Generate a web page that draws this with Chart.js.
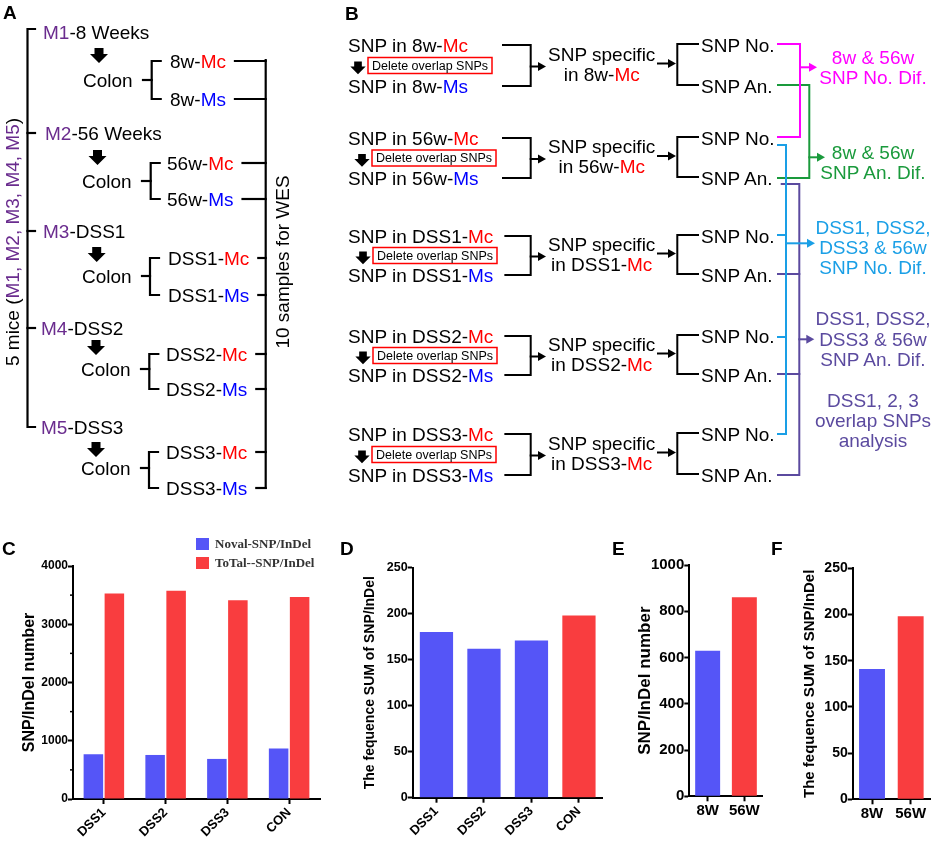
<!DOCTYPE html>
<html>
<head>
<meta charset="utf-8">
<title>SNP/InDel figure</title>
<script src="https://cdn.jsdelivr.net/npm/chart.js@4.4.1/dist/chart.umd.min.js"></script>
<style>
  body { margin: 0; background: #fff; }
  #page { position: relative; width: 934px; height: 848px; overflow: hidden; font-family: Arial, "Liberation Sans", sans-serif; }
  #page canvas { position: absolute; }
  #diag { position: absolute; left: 0; top: 0; pointer-events: none; }
  #legendC { position: absolute; left: 196px; top: 534px; font: bold 13px "Times New Roman", "Liberation Serif", serif; color: #333; }
  #legendC div { height: 19px; display: flex; align-items: center; white-space: nowrap; }
  #legendC span { display: inline-block; width: 13px; height: 12px; margin-right: 6px; }
</style>
</head>
<body>
<div id="page">
  <canvas id="chartC" width="330" height="292" style="left:0;top:556px"></canvas>
  <canvas id="chartD" width="280" height="292" style="left:330px;top:556px"></canvas>
  <canvas id="chartE" width="160" height="292" style="left:610px;top:556px"></canvas>
  <canvas id="chartF" width="164" height="292" style="left:770px;top:556px"></canvas>
  <div id="legendC"></div>
  <svg id="diag" width="934" height="848" font-family="Arial, 'Liberation Sans', sans-serif"></svg>
</div>
<script>
// chart values
const catsC = ['DSS1', 'DSS2', 'DSS3', 'CON'];
const novelC = [768, 756, 688, 865];
const totalC = [3530, 3576, 3410, 3467];
const seriesC = ['Noval-SNP/InDel', 'ToTal--SNP/InDel'];
const minorC = [500, 1500, 2500, 3500];

const catsD = ['DSS1', 'DSS2', 'DSS3', 'CON'];
const sumD = [180, 162, 171, 198];

const catsE = ['8W', '56W'];
const countE = [629, 861];

const catsF = ['8W', '56W'];
const sumF = [141, 198];

// diagram labels
const mice = ['M1', 'M2', 'M3', 'M4', 'M5'];
const groups = ['8 Weeks', '56 Weeks', 'DSS1', 'DSS2', 'DSS3'];
const samples = ['8w', '56w', 'DSS1', 'DSS2', 'DSS3'];

const BLUE = '#5555f7', RED = '#f93d3f';
const T_RED = '#ff0000', T_BLUE = '#0000ff', M_PURPLE = '#6a2c8e';
const MAG = '#ff00ff', GRN = '#1a9a3c', CYN = '#1a9fe6', PUR = '#5b4a9f';

// ---------- charts ----------
Chart.defaults.font.family = 'Arial, "Liberation Sans", sans-serif';
Chart.defaults.font.weight = 'bold';
Chart.defaults.color = '#000';

const minorTicks = {
  id: 'minorTicks',
  afterDraw(chart, args, opts) {
    if (!opts.values) return;
    const y = chart.scales.y, ctx = chart.ctx;
    ctx.save();
    ctx.strokeStyle = '#000';
    ctx.lineWidth = 1.5;
    opts.values.forEach(v => {
      const py = y.getPixelForValue(v);
      ctx.beginPath();
      ctx.moveTo(y.right - 3, py);
      ctx.lineTo(y.right, py);
      ctx.stroke();
    });
    ctx.restore();
  }
};

function barChart(id, labels, datasets, o) {
  datasets.forEach(ds => { ds.categoryPercentage = o.cat; ds.barPercentage = o.bar; });
  return new Chart(document.getElementById(id), {
    type: 'bar',
    data: { labels: labels, datasets: datasets },
    plugins: [minorTicks],
    options: {
      responsive: false,
      animation: false,
      layout: { padding: o.pad },
      plugins: { legend: { display: false }, tooltip: { enabled: false }, minorTicks: { values: o.minor } },
      scales: {
        x: {
          grid: { drawOnChartArea: false, offset: false, tickLength: 5, tickWidth: 2, tickColor: '#000' },
          border: { color: '#000', width: 2 },
          ticks: { font: { size: o.xFont }, maxRotation: o.rot, minRotation: o.rot, padding: 1 },
          afterFit: s => { s.height = o.xh; }
        },
        y: {
          min: 0, max: o.max,
          grid: { drawOnChartArea: false, tickLength: 5, tickWidth: 2, tickColor: '#000' },
          border: { color: '#000', width: 2 },
          ticks: { stepSize: o.step, font: { size: o.yFont }, padding: 0, callback: v => String(v) },
          title: { display: true, text: o.title, font: { size: o.tFont }, padding: { top: o.tPad, bottom: 0 } },
          afterFit: s => { s.width = o.yw; }
        }
      }
    }
  });
}

const lastRed = arr => arr.map((v, i) => i === arr.length - 1 ? RED : BLUE);

const chartC = barChart('chartC', catsC, [
  { label: seriesC[0], data: novelC, backgroundColor: BLUE },
  { label: seriesC[1], data: totalC, backgroundColor: RED }
], { pad: { left: 0, top: 10, right: 10, bottom: 0 }, cat: 0.68, bar: 0.93, minor: minorC,
     xFont: 13, rot: 45, xh: 49, max: 4000, step: 1000, yFont: 12,
     title: 'SNP/InDel number', tFont: 16, tPad: 20, yw: 73 });

barChart('chartD', catsD, [{ data: sumD, backgroundColor: lastRed(sumD) }],
  { pad: { left: 0, top: 11.7, right: 7.3, bottom: 0 }, cat: 0.7, bar: 1,
    xFont: 13, rot: 45, xh: 50.3, max: 250, step: 50, yFont: 12.5,
    title: 'The fequence SUM of SNP/InDel', tFont: 14, tPad: 31.6, yw: 82.7 });

barChart('chartE', catsE, [{ data: countE, backgroundColor: lastRed(countE) }],
  { pad: { left: 0, top: 8.3, right: 7.3, bottom: 0 }, cat: 0.68, bar: 1,
    xFont: 15, rot: 0, xh: 51.7, max: 1000, step: 200, yFont: 15,
    title: 'SNP/InDel number', tFont: 17, tPad: 25.5, yw: 79.3 });

barChart('chartF', catsF, [{ data: sumF, backgroundColor: lastRed(sumF) }],
  { pad: { left: 0, top: 12.3, right: 4, bottom: 0 }, cat: 0.67, bar: 1,
    xFont: 15, rot: 0, xh: 48.7, max: 250, step: 50, yFont: 14,
    title: 'The fequence SUM of SNP/InDel', tFont: 15, tPad: 31, yw: 82.7 });

// legend for C, built from the chart datasets
const leg = document.getElementById('legendC');
chartC.data.datasets.forEach(ds => {
  const row = document.createElement('div');
  const sw = document.createElement('span');
  sw.style.background = ds.backgroundColor;
  row.appendChild(sw);
  row.appendChild(document.createTextNode(ds.label));
  leg.appendChild(row);
});

// ---------- diagrams (A, B) ----------
const NS = 'http://www.w3.org/2000/svg';
const svg = document.getElementById('diag');

function el(tag, attrs, parent) {
  const e = document.createElementNS(NS, tag);
  for (const k in attrs) e.setAttribute(k, attrs[k]);
  (parent || svg).appendChild(e);
  return e;
}
function path(pts, color, w) {
  return el('polyline', { points: pts.map(p => p.join(',')).join(' '), fill: 'none',
    stroke: color || '#000', 'stroke-width': w || 2.2, 'stroke-linecap': 'square' });
}
function txt(x, y, parts, o) {
  o = o || {};
  const t = el('text', { x: x, y: y, 'font-size': o.size || 19, 'text-anchor': o.anchor || 'start',
    'dominant-baseline': 'central', fill: o.color || '#000' });
  if (o.rotate) t.setAttribute('transform', 'rotate(' + o.rotate + ' ' + x + ' ' + y + ')');
  (typeof parts === 'string' ? [[parts]] : parts).forEach(p => {
    const s = el('tspan', p[1] ? { fill: p[1] } : {}, t);
    s.textContent = p[0];
  });
  return t;
}
function downArrow(cx, y0, s) {
  const pts = [[-4.5, 0], [4.5, 0], [4.5, 6], [9, 6], [0, 15], [-9, 6], [-4.5, 6]]
    .map(p => (cx + p[0] * s) + ',' + (y0 + p[1] * s));
  el('polygon', { points: pts.join(' '), fill: '#000' });
}
function rightArrow(x0, x1, y, color) {
  path([[x0, y], [x1 - 6, y]], color, 2);
  el('polygon', { points: (x1 - 8) + ',' + (y - 4.5) + ' ' + x1 + ',' + y + ' ' + (x1 - 8) + ',' + (y + 4.5), fill: color });
}

// panel letters
[['A', 3, 18.6], ['B', 345, 19.6], ['C', 2, 555], ['D', 340, 555], ['E', 612, 555], ['F', 771, 555]]
  .forEach(l => { el('text', { x: l[1], y: l[2], 'font-size': 19, 'font-weight': 'bold' }).textContent = l[0]; });

// panel A
const A = {
  mX: [43, 45, 43, 41, 41],
  mY: [32, 133, 231, 328, 427],
  arX: [99, 97.5, 96.7, 96, 96],
  arY: [48, 150, 247, 340, 442],
  colX: [83, 82, 82, 81, 81],
  colY: [80, 181, 276, 369, 468],
  brX: [151.7, 150.7, 150, 149.3, 149],
  smX: [170, 167, 168, 166, 166],
  mcY: [61, 163, 258, 354, 452],
  msY: [99, 199, 295, 389, 488]
};
path([[35, 29], [27.5, 29], [27.5, 427], [35, 427]]);
A.mY.slice(1, 4).forEach(y => path([[27.5, y], [35, y]]));
txt(12, 242, [['5 mice ('], ['M1, M2, M3, M4, M5', M_PURPLE], [')']], { rotate: -90, anchor: 'middle' });

mice.forEach((m, i) => {
  txt(A.mX[i], A.mY[i], [[m, M_PURPLE], ['-' + groups[i]]]);
  downArrow(A.arX[i], A.arY[i], 1);
  txt(A.colX[i], A.colY[i], 'Colon');
  path([[A.colX[i] + 60, A.colY[i]], [A.brX[i], A.colY[i]]]);
  path([[A.brX[i] + 9, A.mcY[i]], [A.brX[i], A.mcY[i]], [A.brX[i], A.msY[i]], [A.brX[i] + 9, A.msY[i]]]);
  const t1 = txt(A.smX[i], A.mcY[i], [[samples[i] + '-'], ['Mc', T_RED]]);
  const t2 = txt(A.smX[i], A.msY[i], [[samples[i] + '-'], ['Ms', T_BLUE]]);
  const start = A.smX[i] + Math.max(t1.getComputedTextLength(), t2.getComputedTextLength()) + 9;
  path([[start, A.mcY[i]], [265.7, A.mcY[i]]]);
  path([[start, A.msY[i]], [265.7, A.msY[i]]]);
});
path([[265.7, 60], [265.7, 488]]);
txt(282, 262, '10 samples for WES', { rotate: -90, anchor: 'middle' });

// panel B
const B = {
  noY: [45, 138, 236, 336, 434],
  anY: [86, 178, 275, 375, 475],
  boxX: [368, 372, 373, 373, 372]
};
samples.forEach((s, i) => {
  const n = B.noY[i], a = B.anY[i], mid = (n + a) / 2;
  const t1 = txt(348, n, [['SNP in ' + s + '-'], ['Mc', T_RED]]);
  txt(348, a, [['SNP in ' + s + '-'], ['Ms', T_BLUE]]);
  downArrow(B.boxX[i] - 10, mid - 4, 0.85);
  el('rect', { x: B.boxX[i], y: mid - 8, width: 124, height: 16, fill: 'none', stroke: '#ff0000', 'stroke-width': 1.5 });
  txt(B.boxX[i] + 62, mid, 'Delete overlap SNPs', { size: 12.5, anchor: 'middle' });
  const start = Math.max(503, 348 + t1.getComputedTextLength() + 12);
  path([[start, n], [530.7, n], [530.7, a], [start, a]], '#000', 2);
  rightArrow(530.7, 546, mid + 1, '#000');
  txt(601.7, mid - 12, 'SNP specific', { anchor: 'middle' });
  txt(601.7, mid + 8, [['in ' + s + '-'], ['Mc', T_RED]], { anchor: 'middle' });
  rightArrow(658, 676, mid - 2, '#000');
  path([[698, n - 1], [677.3, n - 1], [677.3, a - 1], [698, a - 1]], '#000', 2);
  txt(701, n, 'SNP No.');
  txt(701, a, 'SNP An.');
});

const n = B.noY, a = B.anY;
path([[778, a[0] - 1], [809.3, a[0] - 1], [809.3, a[1]], [778, a[1]]], GRN, 2);
rightArrow(809.3, 825, 157.3, GRN);
path([[778, n[0] - 1], [800, n[0] - 1], [800, n[1] - 1], [778, n[1] - 1]], MAG, 2);
rightArrow(800, 817, 67.3, MAG);
path([[781.7, a[1] + 6], [799.3, a[1] + 6], [799.3, a[4]], [778, a[4]]], PUR, 2);
path([[778, a[2] - 1], [799.3, a[2] - 1]], PUR, 2);
path([[778, a[3] - 1], [799.3, a[3] - 1]], PUR, 2);
rightArrow(799.3, 814.3, 339.3, PUR);
path([[778, n[1] + 7], [786, n[1] + 7], [786, n[4]], [778, n[4]]], CYN, 2);
path([[778, n[2] - 1], [786, n[2] - 1]], CYN, 2);
path([[778, n[3] + 1], [786, n[3] + 1]], CYN, 2);
rightArrow(786, 815, 243.3, CYN);

txt(873, 57, '8w & 56w', { anchor: 'middle', color: MAG });
txt(873, 77, 'SNP No. Dif.', { anchor: 'middle', color: MAG });
txt(873, 152, '8w & 56w', { anchor: 'middle', color: GRN });
txt(873, 172, 'SNP An. Dif.', { anchor: 'middle', color: GRN });
txt(873, 227, 'DSS1, DSS2,', { anchor: 'middle', color: CYN });
txt(873, 247, 'DSS3 & 56w', { anchor: 'middle', color: CYN });
txt(873, 267, 'SNP No. Dif.', { anchor: 'middle', color: CYN });
txt(873, 318, 'DSS1, DSS2,', { anchor: 'middle', color: PUR });
txt(873, 338.5, 'DSS3 & 56w', { anchor: 'middle', color: PUR });
txt(873, 358.5, 'SNP An. Dif.', { anchor: 'middle', color: PUR });
txt(873, 400, 'DSS1, 2, 3', { anchor: 'middle', color: PUR });
txt(873, 420, 'overlap SNPs', { anchor: 'middle', color: PUR });
txt(873, 439.5, 'analysis', { anchor: 'middle', color: PUR });
</script>
</body>
</html>
